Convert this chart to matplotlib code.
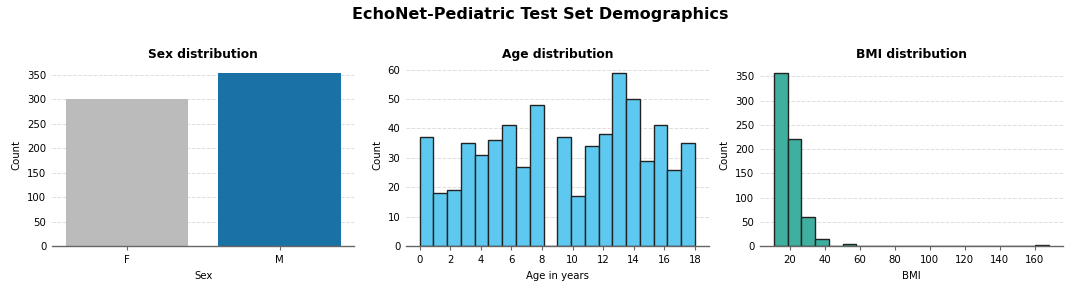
import numpy as np
import matplotlib
matplotlib.use("Agg")
import matplotlib.pyplot as plt

# ---- data ----
sex_labels = ["F", "M"]
sex_counts = [300, 355]
sex_colors = ["#bbbbbb", "#1a71a6"]

age_min, age_max = 0.0, 18.0
age_counts = [37, 18, 19, 35, 31, 36, 41, 27, 48, 0,
              37, 17, 34, 38, 59, 50, 29, 41, 26, 35]

bmi_min, bmi_max = 11.0, 168.0
bmi_counts = [358, 220, 59, 14, 0, 4, 0, 0, 0, 0,
              0, 0, 0, 0, 0, 0, 0, 0, 0, 2]

age_ticks = [0, 2, 4, 6, 8, 10, 12, 14, 16, 18]
bmi_ticks = [20, 40, 60, 80, 100, 120, 140, 160]

plt.rcParams['font.family'] = ['DejaVu Sans']

fig, axes = plt.subplots(1, 3, figsize=(10.8, 2.88), dpi=100)
fig.subplots_adjust(left=0.048, right=0.984, bottom=0.146, top=0.778, wspace=0.17)
fig.suptitle("EchoNet-Pediatric Test Set Demographics", fontsize=11.5, fontweight="bold", y=0.977)

FS = 7.3


def style(ax):
    for s in ["top", "right", "left"]:
        ax.spines[s].set_visible(False)
    ax.spines["bottom"].set_color("#666666")
    ax.spines["bottom"].set_linewidth(1.0)
    ax.grid(axis="y", linestyle="--", color="#dddddd", linewidth=0.7)
    ax.set_axisbelow(True)
    ax.tick_params(axis="y", length=0, labelsize=FS, pad=4)
    ax.tick_params(axis="x", length=3, color="#666666", labelsize=FS)
    ax.set_ylabel("Count", fontsize=FS)


def title(ax, t):
    ax.set_title(t, fontsize=8.8, fontweight="bold", pad=4)


# Sex
ax = axes[0]
ax.bar(sex_labels, sex_counts, color=sex_colors, width=0.8)
style(ax)
title(ax, "Sex distribution")
ax.set_xlabel("Sex", fontsize=FS)
ax.set_yticks([0, 50, 100, 150, 200, 250, 300, 350])

# Age
ax = axes[1]
edges = np.linspace(age_min, age_max, len(age_counts) + 1)
ax.hist(edges[:-1], bins=edges, weights=age_counts, color="#5ec9f0",
        edgecolor="#222222", linewidth=1.0)
style(ax)
title(ax, "Age distribution")
ax.set_xlabel("Age in years", fontsize=FS)
ax.set_xticks(age_ticks)

# BMI
ax = axes[2]
edges = np.linspace(bmi_min, bmi_max, len(bmi_counts) + 1)
ax.hist(edges[:-1], bins=edges, weights=bmi_counts, color="#3fb0a0",
        edgecolor="#222222", linewidth=1.0)
style(ax)
title(ax, "BMI distribution")
ax.set_xlabel("BMI", fontsize=FS)
ax.set_xticks(bmi_ticks)
ax.set_yticks([0, 50, 100, 150, 200, 250, 300, 350])

fig.savefig("out.png", dpi=100)
